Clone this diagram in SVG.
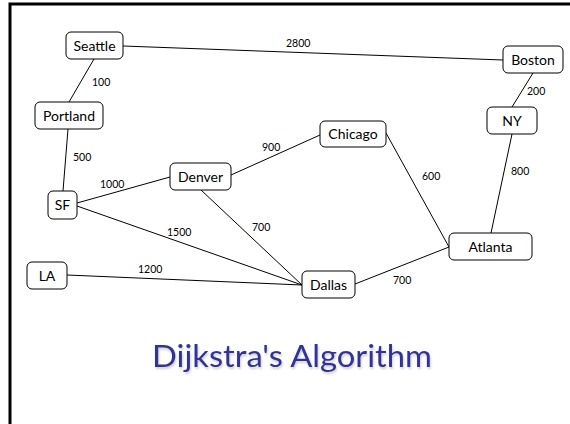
<svg xmlns="http://www.w3.org/2000/svg" width="570" height="424" viewBox="0 0 570 424">
  <style>
    .node rect { fill: #ffffff; stroke: #000000; stroke-width: 1; }
    .node text { font-family: Lato, "Open Sans", sans-serif; font-size: 14px; fill: #000000; text-anchor: middle; }
    .edges line { stroke: #000000; stroke-width: 1; }
    .w { font-family: Lato, "Open Sans", sans-serif; font-size: 10.5px; fill: #000000; }
    .title { font-family: Lato, "Open Sans", sans-serif; font-size: 30px; fill: #333399; text-anchor: middle; }
  </style>
  <defs>
    <filter id="soft" x="-5%" y="-20%" width="110%" height="140%">
      <feGaussianBlur in="SourceAlpha" stdDeviation="1"/>
      <feOffset dx="1" dy="1.5" result="b"/>
      <feComponentTransfer><feFuncA type="linear" slope="0.2"/></feComponentTransfer>
      <feMerge><feMergeNode/><feMergeNode in="SourceGraphic"/></feMerge>
    </filter>
  </defs>
  <rect x="0" y="0" width="570" height="424" fill="#ffffff"/>
  <!-- frame -->
  <path d="M10 424 V4 H570" fill="none" stroke="#000000" stroke-width="3"/>

  <g id="edges" class="edges">
    <line x1="123" y1="46" x2="503" y2="60"/>
    <line x1="94" y1="59" x2="69" y2="102"/>
    <line x1="68" y1="129" x2="63" y2="191"/>
    <line x1="533" y1="73" x2="512" y2="107"/>
    <line x1="512" y1="134" x2="491" y2="233"/>
    <line x1="386" y1="133" x2="449" y2="247"/>
    <line x1="320" y1="135" x2="231" y2="175"/>
    <line x1="77" y1="203" x2="170" y2="177"/>
    <line x1="77" y1="206" x2="302" y2="285"/>
    <line x1="201" y1="190" x2="302" y2="285"/>
    <line x1="67" y1="275" x2="302" y2="285"/>
    <line x1="355" y1="284" x2="449" y2="247"/>
  </g>

  <g id="weights">
    <text class="w" x="92" y="86">100</text>
    <text class="w" x="286" y="47">2800</text>
    <text class="w" x="527" y="95">200</text>
    <text class="w" x="73" y="161">500</text>
    <text class="w" x="100" y="188">1000</text>
    <text class="w" x="262" y="151">900</text>
    <text class="w" x="167" y="236">1500</text>
    <text class="w" x="252" y="231">700</text>
    <text class="w" x="138" y="273">1200</text>
    <text class="w" x="422" y="180">600</text>
    <text class="w" x="511" y="175">800</text>
    <text class="w" x="393" y="284">700</text>
  </g>

  <g id="seattle" class="node"><rect x="66" y="32" width="57" height="27" rx="5"/><text x="94.5" y="50.5">Seattle</text></g>
  <g id="portland" class="node"><rect x="35" y="102" width="68" height="27" rx="5"/><text x="69" y="120.5">Portland</text></g>
  <g id="boston" class="node"><rect x="503" y="46" width="60" height="27" rx="5"/><text x="533" y="64.5">Boston</text></g>
  <g id="ny" class="node"><rect x="487" y="107" width="50" height="27" rx="5"/><text x="512" y="125.5">NY</text></g>
  <g id="chicago" class="node"><rect x="320" y="121" width="66" height="26" rx="5"/><text x="353" y="139">Chicago</text></g>
  <g id="denver" class="node"><rect x="170" y="163" width="61" height="27" rx="5"/><text x="200.5" y="181.5">Denver</text></g>
  <g id="sf" class="node"><rect x="48" y="191" width="29" height="28" rx="5"/><text x="62.5" y="210">SF</text></g>
  <g id="la" class="node"><rect x="27" y="262" width="40" height="27" rx="5"/><text x="47" y="280.5">LA</text></g>
  <g id="dallas" class="node"><rect x="302" y="271" width="53" height="27" rx="5"/><text x="328.5" y="289.5">Dallas</text></g>
  <g id="atlanta" class="node"><rect x="449" y="233" width="83" height="27" rx="5"/><text x="490.5" y="251.5">Atlanta</text></g>

  <text class="title" x="292" y="367" textLength="280" lengthAdjust="spacingAndGlyphs" filter="url(#soft)">Dijkstra's Algorithm</text>
</svg>
